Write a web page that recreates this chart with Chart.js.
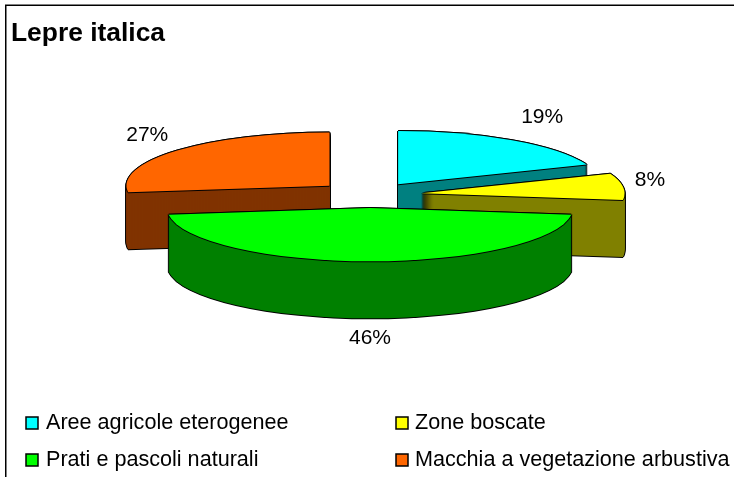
<!DOCTYPE html>
<html><head><meta charset="utf-8">
<style>html,body{margin:0;padding:0;background:#fff}canvas{display:block}</style>
<script src="https://cdn.jsdelivr.net/npm/chart.js@4"></script>
</head><body><canvas id="c" width="734" height="477"></canvas>
<script>
const chartTitle = 'Lepre italica';
const categories = ['Aree agricole eterogenee', 'Zone boscate', 'Prati e pascoli naturali', 'Macchia a vegetazione arbustiva'];
const values = [19, 8, 46, 27];
const topColors = ['#00FFFF', '#FFFF00', '#00FF00', '#FF6600'];
const wallColors = ['#008080', '#808000', '#008000', '#803300'];
const drawOrder = [0, 3, 1, 2];
const explodes = [50, 52, 50, 54];
const labelNudges = [[30, -23], [27, -6], [0, 20], [-30, -15]];
const legendSlots = [[26, 417], [396, 417], [26, 454], [396, 454]];

const CX = 370, CY = 195, TILT = 0.262, DEPTH = 57, RADIUS = 203;

const pie3d = {
  id: 'pie3d',
  beforeDraw(chart) {
    const ctx = chart.ctx;
    ctx.save();
    ctx.strokeStyle = '#000';
    ctx.lineWidth = 1.5;
    ctx.beginPath();
    ctx.moveTo(5.75, 500);
    ctx.lineTo(5.75, 5.25);
    ctx.lineTo(760, 5.25);
    ctx.stroke();
    ctx.restore();
  },
  beforeDatasetDraw(chart, args) {
    const ctx = chart.ctx;
    const arcs = args.meta.data;
    const paint = (arc, i, color, dx, dy) => {
      const mid = (arc.startAngle + arc.endAngle) / 2;
      const saved = arc.options;
      arc.options = Object.assign({}, saved, { backgroundColor: color, borderWidth: 0, offset: 0 });
      ctx.save();
      ctx.translate(CX + explodes[i] * Math.cos(mid) + dx, CY + explodes[i] * Math.sin(mid) * TILT + dy);
      ctx.scale(1, TILT);
      ctx.translate(-arc.x, -arc.y);
      arc.draw(ctx);
      ctx.restore();
      arc.options = saved;
    };
    const halo = [[-1, 0], [1, 0], [0, -1], [0, 1]];
    drawOrder.forEach(i => {
      const arc = arcs[i];
      for (let d = DEPTH; d >= 0; d--) halo.forEach(h => paint(arc, i, '#000', h[0], d + h[1]));
      for (let d = DEPTH; d >= 1; d--) paint(arc, i, wallColors[i], 0, d);
      halo.forEach(h => paint(arc, i, '#000', h[0], h[1]));
      paint(arc, i, topColors[i], 0, 0);
    });
    return false;
  },
  afterDraw(chart) {
    const ctx = chart.ctx;
    const arcs = chart.getDatasetMeta(0).data;
    ctx.save();
    ctx.fillStyle = '#000';
    ctx.font = '21px "Liberation Sans"';
    ctx.textAlign = 'center';
    ctx.textBaseline = 'middle';
    arcs.forEach((arc, i) => {
      const mid = (arc.startAngle + arc.endAngle) / 2;
      const r = explodes[i] + RADIUS;
      const x = CX + r * Math.cos(mid) + labelNudges[i][0];
      const y = CY + r * Math.sin(mid) * TILT + (i === 2 ? DEPTH : 0) + labelNudges[i][1];
      ctx.fillText(values[i] + '%', x, y);
    });
    ctx.font = '21.6px "Liberation Sans"';
    ctx.textAlign = 'left';
    ctx.textBaseline = 'alphabetic';
    categories.forEach((name, i) => {
      const [x, y] = legendSlots[i];
      ctx.fillStyle = topColors[i];
      ctx.fillRect(x, y, 12, 12);
      ctx.strokeStyle = '#000';
      ctx.lineWidth = 1.5;
      ctx.strokeRect(x, y, 12, 12);
      ctx.fillStyle = '#000';
      ctx.fillText(name, x + (i % 2 ? 19 : 20), y + 11.5);
    });
    ctx.restore();
  }
};

new Chart(document.getElementById('c'), {
  type: 'pie',
  data: { labels: categories, datasets: [{ data: values, backgroundColor: topColors, borderWidth: 0, radius: RADIUS }] },
  plugins: [pie3d],
  options: {
    responsive: false,
    animation: false,
    layout: { padding: { left: 11, top: 18 } },
    plugins: {
      legend: { display: false },
      tooltip: { enabled: false },
      title: {
        display: true, text: chartTitle, align: 'start', color: '#000',
        font: { family: '"Liberation Sans"', size: 26.4, weight: 'bold' },
        padding: 0
      }
    }
  }
});
</script></body></html>
